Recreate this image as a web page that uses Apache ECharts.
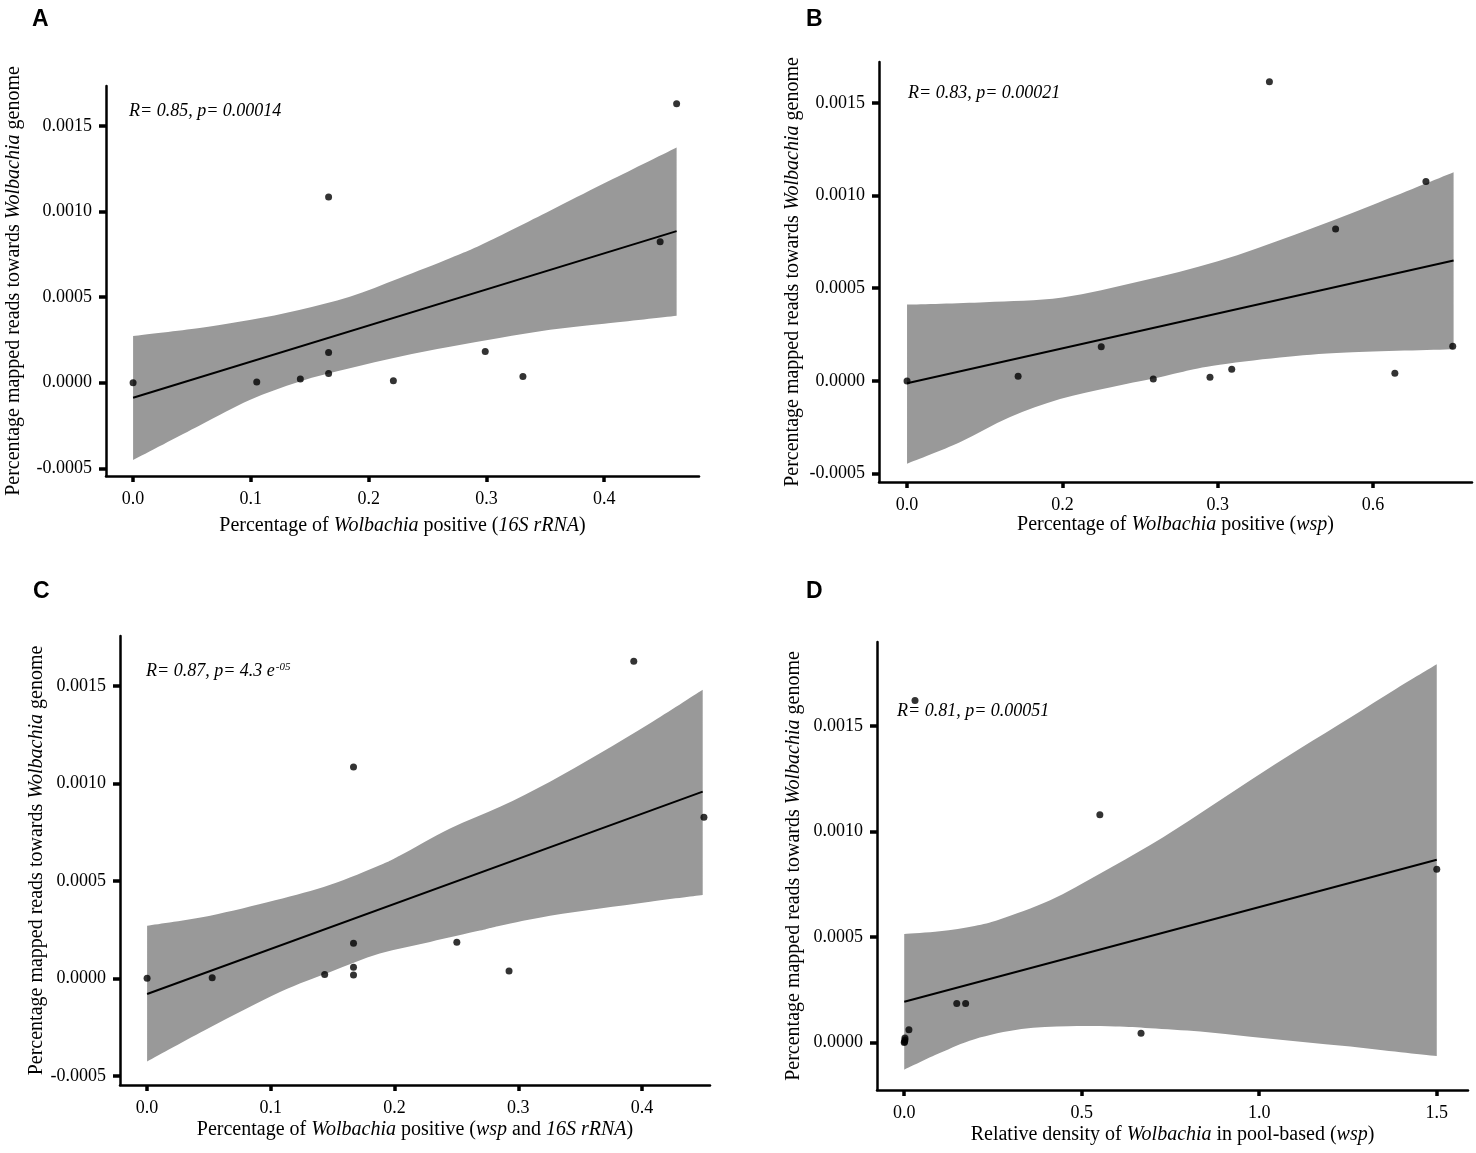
<!DOCTYPE html>
<html>
<head>
<meta charset="utf-8">
<script src="https://cdn.jsdelivr.net/npm/echarts@6/dist/echarts.min.js"></script>
<style>
	html, body { margin: 0; padding: 0; background: #fff; }
	#chart { width: 1476px; height: 1153px; }
</style>
</head>
<body>
<div id="chart"></div>
<script type="text/javascript">
	// ---- panel A : 16S rRNA ----
	var aPoints = [[0, 0], [0.105, 0.000004], [0.142, 0.0000215], [0.166, 0.0000545], [0.166, 0.000177], [0.166, 0.001085],
		[0.221, 0.0000117], [0.299, 0.000183], [0.331, 0.000037], [0.4475, 0.000824], [0.4615, 0.00163]];
	var aFit = [[0, -0.0000876], [0.4615, 0.000886]];
	var aUpper = [[0, 0.000273], [0.0565, 0.00032], [0.099, 0.000366], [0.141, 0.000425], [0.184, 0.000502], [0.226, 0.00061],
		[0.269, 0.000727], [0.297, 0.00081], [0.354, 0.001005], [0.4, 0.001165], [0.4615, 0.001375]];
	var aLower = [[0, -0.000452], [0.0565, -0.00025], [0.099, -0.000101], [0.141, 0.000006], [0.184, 0.000084], [0.226, 0.000152],
		[0.269, 0.00021], [0.311, 0.000262], [0.354, 0.00031], [0.4, 0.000345], [0.4615, 0.000392]];

	// ---- panel B : wsp ----
	var bPoints = [[0, 0], [0.143, 0.000025], [0.25, 0.000184], [0.317, 0.000011], [0.39, 0.00002], [0.418, 0.000063],
		[0.4665, 0.001613], [0.5517, 0.00082], [0.628, 0.0000415], [0.668, 0.001076], [0.7025, 0.000187]];
	var bFit = [[0, -0.000012], [0.7036, 0.00065]];
	var bUpper = [[0, 0.000412], [0.1, 0.000425], [0.2, 0.00045], [0.3, 0.000537], [0.4, 0.000645], [0.5, 0.00079],
		[0.6, 0.00095], [0.7036, 0.001125]];
	var bLower = [[0, -0.000447], [0.068, -0.000331], [0.132, -0.000196], [0.197, -0.000098], [0.261, -0.000035],
		[0.317, 0.000013], [0.351, 0.000046], [0.394, 0.000082], [0.48, 0.000126], [0.566, 0.000153], [0.7036, 0.000171]];
	var bTicks = [0, 0.2, 0.4, 0.6];
	var bTickLabels = ['0.0', '0.2', '0.3', '0.6'];

	// ---- panel C : wsp and 16S rRNA ----
	var cPoints = [[0, 0], [0.0526, 0.0000035], [0.1435, 0.00002], [0.1668, 0.0000174], [0.1668, 0.0000575], [0.1668, 0.00018],
		[0.1668, 0.001084], [0.2503, 0.000185], [0.2925, 0.0000375], [0.3933, 0.001627], [0.45, 0.000826]];
	var cFit = [[0, -0.00008], [0.449, 0.000958]];
	var cUpper = [[0, 0.00027], [0.05, 0.00032], [0.1034, 0.0004], [0.148, 0.00048], [0.188, 0.00058], [0.2044, 0.00063],
		[0.2448, 0.000769], [0.2852, 0.00088], [0.3256, 0.001009], [0.366, 0.001154], [0.4065, 0.001308], [0.449, 0.00148]];
	var cLower = [[0, -0.000427], [0.05, -0.000255], [0.1074, -0.00007], [0.148, 0.000033], [0.188, 0.000127], [0.2287, 0.000187],
		[0.269, 0.000245], [0.2852, 0.00027], [0.3256, 0.000321], [0.366, 0.000358], [0.4065, 0.000393], [0.449, 0.000427]];

	// ---- panel D : relative density ----
	var dPoints = [[0, 0], [0.001, 0.000004], [0.002, 0.0000117], [0.002, 0.0000215], [0.0132, 0.0000612], [0.0304, 0.001622],
		[0.148, 0.000185], [0.173, 0.000185], [0.551, 0.00108], [0.667, 0.0000435], [1.5, 0.000821]];
	var dFit = [[0, 0.000193], [1.5, 0.000867]];
	var dUpper = [[0, 0.000515], [0.1, 0.000528], [0.198, 0.000553], [0.2703, 0.000585], [0.411, 0.000675], [0.552, 0.000802],
		[0.693, 0.000936], [0.834, 0.001087], [0.975, 0.001244], [1.116, 0.001395], [1.2555, 0.00154], [1.388, 0.00168], [1.5, 0.001794]];
	var dLower = [[0, -0.000129], [0.1, -0.00005], [0.198, 0.000016], [0.33, 0.000064], [0.4625, 0.000077], [0.595, 0.000076],
		[0.693, 0.000068], [0.834, 0.000052], [0.975, 0.000028], [1.116, 0.000004], [1.257, -0.000019], [1.398, -0.000046], [1.5, -0.000064]];

	var yTicks = [-0.0005, 0, 0.0005, 0.001, 0.0015];
	var yTicksD = [0, 0.0005, 0.001, 0.0015];
	var xTicks4 = [0, 0.1, 0.2, 0.3, 0.4];
	var xTicksD = [0, 0.5, 1, 1.5];

	var SERIF = "'Liberation Serif', 'DejaVu Serif', serif";
	var yTitle = '{n|Percentage mapped reads towards }{i|Wolbachia}{n| genome}';
	var titleRich = {
		n: { fontFamily: SERIF, fontSize: 20, color: '#000' },
		i: { fontFamily: SERIF, fontSize: 20, color: '#000', fontStyle: 'italic' }
	};

	// 面板位置 (px)
	var panels = [
		{ grid: { left: 106, top: 86, width: 593, height: 390 }, x: [-0.023, 0.4805], y: [-0.000545, 0.001734],
			xt: xTicks4, yt: yTicks, xGap: 40, yGap: 82,
			xName: '{n|Percentage of }{i|Wolbachia}{n| positive (}{i|16S rRNA}{n|)}',
			pts: aPoints, fit: aFit, up: aUpper, lo: aLower },
		{ grid: { left: 879, top: 62, width: 593, height: 420 }, x: [-0.0361, 0.7273], y: [-0.000545, 0.00172],
			xt: bTicks, yt: yTicks, xGap: 32, yGap: 76, xLabels: bTickLabels,
			xName: '{n|Percentage of }{i|Wolbachia}{n| positive (}{i|wsp}{n|)}',
			pts: bPoints, fit: bFit, up: bUpper, lo: bLower },
		{ grid: { left: 120, top: 636, width: 590, height: 449 }, x: [-0.0219, 0.4549], y: [-0.000547, 0.001756],
			xt: xTicks4, yt: yTicks, xGap: 35, yGap: 72,
			xName: '{n|Percentage of }{i|Wolbachia}{n| positive (}{i|wsp}{n| and }{i|16S rRNA}{n|)}',
			pts: cPoints, fit: cFit, up: cUpper, lo: cLower },
		{ grid: { left: 877, top: 642, width: 591, height: 448 }, x: [-0.0767, 1.588], y: [-0.000225, 0.001899],
			xt: xTicksD, yt: yTicksD, xGap: 35, yGap: 73,
			xName: '{n|Relative density of }{i|Wolbachia}{n| in pool-based (}{i|wsp}{n|)}',
			pts: dPoints, fit: dFit, up: dUpper, lo: dLower }
	];

	// smooth curve through pixel points (catmull-rom -> bezier)
	function curvePath(pts, first) {
		var d = first ? 'M' + pts[0][0] + ',' + pts[0][1] : 'L' + pts[0][0] + ',' + pts[0][1];
		for (var k = 0; k < pts.length - 1; k++) {
			var p0 = pts[k > 0 ? k - 1 : k], p1 = pts[k], p2 = pts[k + 1], p3 = pts[k + 2 < pts.length ? k + 2 : k + 1];
			var c1x = p1[0] + (p2[0] - p0[0]) / 6, c1y = p1[1] + (p2[1] - p0[1]) / 6;
			var c2x = p2[0] - (p3[0] - p1[0]) / 6, c2y = p2[1] - (p3[1] - p1[1]) / 6;
			d += 'C' + c1x + ',' + c1y + ',' + c2x + ',' + c2y + ',' + p2[0] + ',' + p2[1];
		}
		return d;
	}

	var grids = [], xAxes = [], yAxes = [], series = [];
	panels.forEach(function (p, i) {
		grids.push({ left: p.grid.left, top: p.grid.top, width: p.grid.width, height: p.grid.height,
			containLabel: false, outerBoundsMode: 'none' });
		xAxes.push({
			gridIndex: i, type: 'value', min: p.x[0], max: p.x[1],
			name: p.xName, nameLocation: 'middle', nameGap: p.xGap,
			nameTextStyle: { rich: titleRich },
			axisLine: { onZero: false, lineStyle: { color: '#000', width: 2.5 } },
			axisTick: { customValues: p.xt, length: 6, lineStyle: { color: '#000', width: 3.5 } },
			axisLabel: {
				customValues: p.xt, margin: 14, color: '#000', fontFamily: SERIF, fontSize: 18,
				formatter: (function (labels, ticks) {
					return function (v) {
						if (labels) {
							for (var k = 0; k < ticks.length; k++) {
								if (Math.abs(ticks[k] - v) < 1e-9) return labels[k];
							}
						}
						return v.toFixed(1);
					};
				})(p.xLabels, p.xt)
			},
			splitLine: { show: false }
		});
		yAxes.push({
			gridIndex: i, type: 'value', min: p.y[0], max: p.y[1],
			name: yTitle, nameLocation: 'middle', nameGap: p.yGap,
			nameTextStyle: { rich: titleRich },
			axisLine: { onZero: false, lineStyle: { color: '#000', width: 2.5 } },
			axisTick: { customValues: p.yt, length: 7, lineStyle: { color: '#000', width: 3.5 } },
			axisLabel: {
				customValues: p.yt, margin: 14, color: '#000', fontFamily: SERIF, fontSize: 18,
				formatter: function (v) { return v.toFixed(4); }
			},
			splitLine: { show: false }
		});
		// 置信区间
		series.push({
			type: 'custom', xAxisIndex: i, yAxisIndex: i, silent: true, z: 1,
			data: [[p.x[0], p.y[0]]],
			renderItem: (function (up, lo) {
				return function (params, api) {
					var top = up.map(function (d) { return api.coord(d); });
					var bot = lo.slice().reverse().map(function (d) { return api.coord(d); });
					var path = curvePath(top, true) + curvePath(bot, false) + 'Z';
					return { type: 'path', shape: { pathData: path }, style: { fill: '#999999' } };
				};
			})(p.up, p.lo)
		});
		series.push({
			type: 'line', xAxisIndex: i, yAxisIndex: i, data: p.fit, z: 2, silent: true,
			symbol: 'none', lineStyle: { color: '#000', width: 2 }
		});
		series.push({
			type: 'scatter', xAxisIndex: i, yAxisIndex: i, data: p.pts, z: 3, silent: true,
			symbol: 'circle', symbolSize: 7, itemStyle: { color: '#000' }
		});
	});

	var statStyle = { fontFamily: SERIF, fontSize: 18, fontStyle: 'italic', fill: '#000' };
	function statText(left, top, text, rich) {
		return { type: 'text', left: left, top: top, z: 10,
			style: Object.assign({ text: text, rich: rich || {} }, statStyle) };
	}
	function letter(left, top, t) {
		return { type: 'text', left: left, top: top, z: 10,
			style: { text: t, fontFamily: "'Liberation Sans', Arial, sans-serif", fontWeight: 'bold', fontSize: 23, fill: '#000' } };
	}

	var myChart = echarts.init(document.getElementById('chart'), null, { renderer: 'canvas' });
	var option = {
		backgroundColor: '#fff',
		animation: false,
		grid: grids,
		xAxis: xAxes,
		yAxis: yAxes,
		series: series,
		graphic: [
			letter(32, 8, 'A'), letter(806, 8, 'B'), letter(33, 580, 'C'), letter(806, 580, 'D'),
			statText(129, 102, 'R= 0.85, p= 0.00014'),
			statText(908, 84, 'R= 0.83, p= 0.00021'),
			statText(146, 662, 'R= 0.87, p= 4.3 e{s|-05}', {
				s: { fontFamily: SERIF, fontSize: 11, fontStyle: 'italic', verticalAlign: 'top', padding: [0, 0, 8, 1] }
			}),
			statText(897, 702, 'R= 0.81, p= 0.00051')
		]
	};
	myChart.setOption(option);
</script>
</body>
</html>
